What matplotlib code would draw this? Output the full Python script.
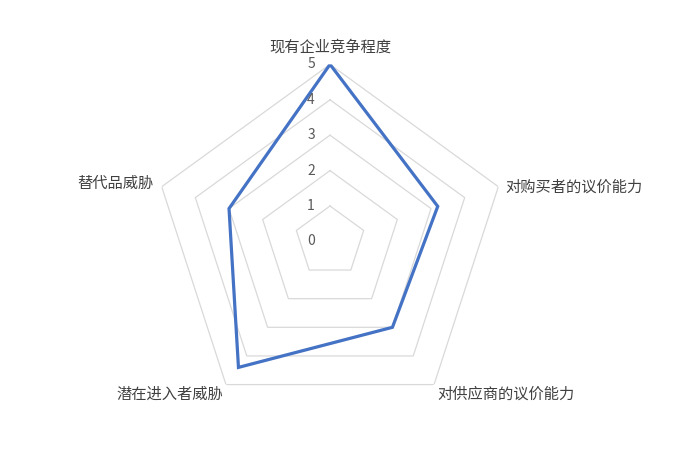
import numpy as np
import matplotlib
matplotlib.use("Agg")
import matplotlib.pyplot as plt
from matplotlib.transforms import offset_copy

plt.rcParams['font.family'] = ['Noto Sans CJK SC', 'DejaVu Sans']

categories = ["现有企业竞争程度", "对购买者的议价能力", "对供应商的议价能力", "潜在进入者威胁", "替代品威胁"]
values = [5, 3.2, 3.0, 4.4, 3.0]
ticks = [0, 1, 2, 3, 4, 5]

fig = plt.figure(figsize=(7, 4.7), dpi=100)
ax = fig.add_axes([0.2186, 0.1098, 0.5057, 0.7532], projection='polar')
ax.set_theta_offset(np.pi / 2)
ax.set_theta_direction(-1)
ax.set_ylim(0, 5)
ax.grid(False)
ax.spines['polar'].set_visible(False)
ax.set_xticks([])
ax.set_yticks([])
ax.patch.set_alpha(0)

n = len(categories)
theta = np.arange(n) * 2 * np.pi / n
theta_c = np.concatenate([theta, theta[:1]])

# rings
for t in ticks[1:]:
    ax.plot(theta_c, [t] * (n + 1), color='#d9d9d9', lw=0.9, zorder=1)

# data
vals_c = np.concatenate([values, values[:1]])
ax.plot(theta_c, vals_c, color='#4472C4', lw=2.3, zorder=3, solid_joinstyle='miter')

# tick labels
tr = offset_copy(ax.transData, fig=fig, x=-19, y=0, units='dots')
for t in ticks:
    ax.text(0, t, str(t), transform=tr, ha='center', va='center',
            fontsize=10, color='#595959', zorder=4)

# category labels
specs = [
    (0, 17, 'center', 'bottom'),
    (7, 0, 'left', 'center'),
    (3, -1, 'left', 'top'),
    (-3, -1, 'right', 'top'),
    (-8, 3, 'right', 'center'),
]
for th, lab, (dx, dy, ha, va) in zip(theta, categories, specs):
    trl = offset_copy(ax.transData, fig=fig, x=dx, y=dy, units='dots')
    if va == 'bottom':
        trl = offset_copy(ax.transData, fig=fig, x=dx, y=dy - 8, units='dots')
    ax.text(th, 5, lab, transform=trl, ha=ha, va=va, fontsize=11, color='#404040')

fig.savefig('out.png', dpi=100)
